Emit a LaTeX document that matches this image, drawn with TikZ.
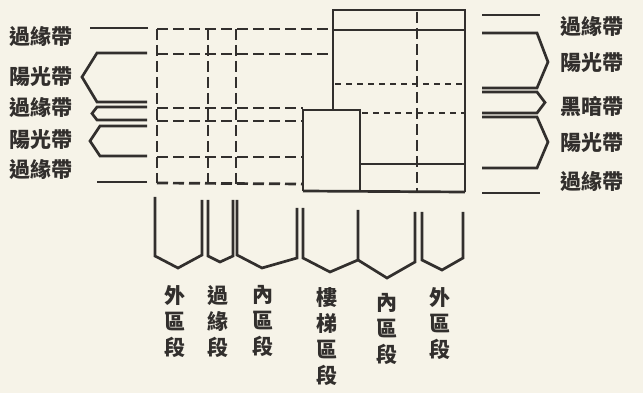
\documentclass[tikz,border=0pt]{standalone}
\usepackage{fontspec}
\newfontfamily\cjk{Noto Sans CJK TC}
\definecolor{paper}{RGB}{246,243,232}
\definecolor{ink}{RGB}{50,47,45}
\begin{document}
\begin{tikzpicture}[x=1pt,y=-1pt,
  sol/.style={draw=ink, line width=2.7pt},
  dsh/.style={draw=ink, line width=2.7pt, dash pattern=on 11pt off 5pt},
  dotl/.style={draw=ink, line width=2.7pt, dash pattern=on 6pt off 5pt},
  lab/.style={font=\cjk\bfseries\fontsize{21}{26}\selectfont, text=ink, inner sep=0pt},
  vlab/.style={lab, align=center, anchor=north}]
\useasboundingbox (0,0) rectangle (643,393);
\fill[paper] (0,0) rectangle (643,393);

% left brackets
\draw[sol] (148,28) -- (90,28);
\draw[sol] (147,53) -- (97,53) -- (82,77) -- (97,102) -- (147,102);
\draw[sol] (147,107) -- (97,107) -- (92,113.5) -- (97,120) -- (147,120);
\draw[sol] (147,126) -- (100,126) -- (90,141) -- (100,156) -- (147,156);
\draw[sol] (147,182) -- (97,182);

% left dashed grid
\draw[dsh] (157,29) -- (333,29);
\draw[dsh] (157,54) -- (333,54);
\draw[dsh] (157,108) -- (303,108);
\draw[dsh] (157,121) -- (303,121);
\draw[dsh] (157,157) -- (303,157);
\draw[dsh] (157,183) -- (303,184);
\draw[dsh] (157,29) -- (157,183);
\draw[dsh] (208,29) -- (208,183);
\draw[dsh] (236,29) -- (236,184);

% right boxes
\draw[sol] (333,110) -- (333,10) -- (465,10) -- (465,192);
\draw[sol] (333,30) -- (465,30);
\draw[sol] (303,191) -- (303,110) -- (360,110) -- (360,191);
\draw[sol] (303,191) -- (465,192);
\draw[sol] (360,164) -- (465,164);
\draw[dotl] (335,84) -- (465,84);
\draw[dotl] (362,113) -- (465,113);
\draw[dsh] (417,12) -- (417,191);

% right brackets
\draw[sol] (482,15) -- (540,15);
\draw[sol] (482,33) -- (537,33) -- (548,62) -- (537,88) -- (482,88);
\draw[sol] (482,92) -- (537,92) -- (545,102.5) -- (537,113) -- (482,113);
\draw[sol] (482,117) -- (537,117) -- (548,142) -- (537,168) -- (482,168);
\draw[sol] (482,193) -- (540,193);

% bottom chevrons
\draw[sol] (155,197) -- (155,256) -- (178,268) -- (202,255) -- (202,200);
\draw[sol] (208,200) -- (208,256) -- (220,262) -- (233,256) -- (233,200);
\draw[sol] (237,200) -- (237,255) -- (262,268) -- (297,258) -- (297,208);
\draw[sol] (303,208) -- (303,258) -- (330,272) -- (358,260) -- (358,210);
\draw[sol] (358,260) -- (387,278) -- (415,262) -- (415,212);
\draw[sol] (422,212) -- (422,260) -- (442,270) -- (463,258) -- (463,212);

% left labels
\node[lab, anchor=west] (l1) at (9,37) {過緣帶};
\node[lab, anchor=west] (l2) at (9,77) {陽光帶};
\node[lab, anchor=west] (l3) at (9,108) {過緣帶};
\node[lab, anchor=west] (l4) at (9,140) {陽光帶};
\node[lab, anchor=west] (l5) at (9,170) {過緣帶};

% right labels
\node[lab, anchor=west] (r1) at (560,27) {過緣帶};
\node[lab, anchor=west] (r2) at (560,63) {陽光帶};
\node[lab, anchor=west] (r3) at (560,107) {黑暗帶};
\node[lab, anchor=west] (r4) at (560,143) {陽光帶};
\node[lab, anchor=west] (r5) at (560,182) {過緣帶};

% bottom labels
\node[vlab] (b1) at (175,285) {外\\區\\段};
\node[vlab] (b2) at (218,285) {過\\緣\\段};
\node[vlab] (b3) at (263,285) {內\\區\\段};
\node[vlab] (b4) at (327,287) {樓\\梯\\區\\段};
\node[vlab] (b5) at (387,293) {內\\區\\段};
\node[vlab] (b6) at (440,287) {外\\區\\段};
\end{tikzpicture}
\end{document}
